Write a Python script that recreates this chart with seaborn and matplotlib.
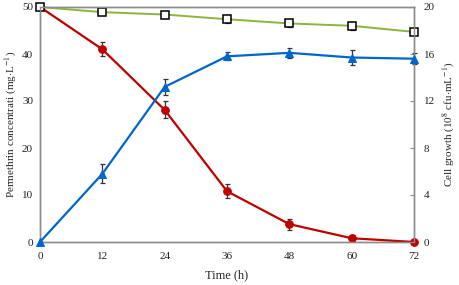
import matplotlib
matplotlib.use("Agg")
import matplotlib.pyplot as plt
import seaborn as sns
import pandas as pd
import numpy as np

time_h = [0, 12, 24, 36, 48, 60, 72]
control = [50.0, 48.9, 48.4, 47.4, 46.5, 46.0, 44.7]
control_err = [0.0, 0.7, 0.8, 0.9, 0.8, 0.9, 0.6]
permethrin = [50.0, 41.0, 28.1, 10.8, 3.8, 0.8, 0.0]
permethrin_err = [0.0, 1.5, 1.8, 1.5, 1.2, 0.6, 0.2]
cells = [0.0, 5.8, 13.2, 15.8, 16.1, 15.7, 15.6]
cells_err = [0.0, 0.8, 0.7, 0.35, 0.45, 0.6, 0.45]

x_ticks = [0, 12, 24, 36, 48, 60, 72]
left_ticks = [0, 10, 20, 30, 40, 50]
right_ticks = [0, 4, 8, 12, 16, 20]

sns.set_style("white")
plt.rcParams['font.family'] = ['Liberation Serif', 'DejaVu Serif']
plt.rcParams['mathtext.fontset'] = 'stix'

GREEN = "#8DB43E"
RED = "#C00000"
BLUE = "#0066CC"
SPINE = "#8C8C8C"

fig = plt.figure(figsize=(4.59, 2.85), dpi=100)
ax = fig.add_axes([40/459, 43/285, 374/459, 235/285])
ax2 = ax.twinx()

df = pd.DataFrame({"t": time_h, "c": control, "p": permethrin, "g": cells})

ekw = dict(fmt='none', ecolor='#333333', elinewidth=0.9, capsize=1.8, capthick=0.9, zorder=2, clip_on=False)
ax.errorbar(time_h, control, yerr=control_err, **ekw)
ax.errorbar(time_h, permethrin, yerr=permethrin_err, **ekw)
sns.lineplot(data=df, x="t", y="p", ax=ax, color=RED, lw=1.6, marker="o", markersize=5.5,
             markerfacecolor=RED, markeredgecolor=RED, zorder=3, clip_on=False)
sns.lineplot(data=df, x="t", y="c", ax=ax, color=GREEN, lw=1.4, marker="s", markersize=6,
             markerfacecolor="white", markeredgecolor="black", markeredgewidth=1.1, zorder=4, clip_on=False)

ax2.errorbar(time_h, cells, yerr=cells_err, **ekw)
sns.lineplot(data=df, x="t", y="g", ax=ax2, color=BLUE, lw=1.6, marker="^", markersize=5.5,
             markerfacecolor=BLUE, markeredgecolor=BLUE, zorder=3, clip_on=False)

ax.set_xlim(0, 72)
ax.set_ylim(0, 50)
ax2.set_ylim(0, 20)
ax.set_xticks(x_ticks)
ax.set_yticks(left_ticks)
ax2.set_yticks(right_ticks)
ax.set_xticklabels([str(v) for v in x_ticks])

for a in (ax, ax2):
    for s in a.spines.values():
        s.set_color(SPINE)
        s.set_linewidth(1.0)
        s.set_visible(True)
    a.tick_params(axis='both', length=3, width=0.8, color=SPINE, labelsize=8, labelcolor='#222222', pad=3)
ax.tick_params(axis='y', length=0, pad=5)
ax2.tick_params(axis='y', direction='in', length=3, pad=7)
ax.tick_params(axis='x', direction='out', length=4, pad=3)

ax.set_xlabel("Time (h)", fontsize=9, labelpad=6)
ax.set_ylabel(r"Permethrin concentrati (mg$\cdot$L$^{-1}$)", fontsize=8, labelpad=2)
ax2.set_ylabel(r"Cell growth (10$^{8}$ cfu$\cdot$mL$^{-1}$)", fontsize=8, labelpad=4)

fig.savefig("out.png", dpi=100)
